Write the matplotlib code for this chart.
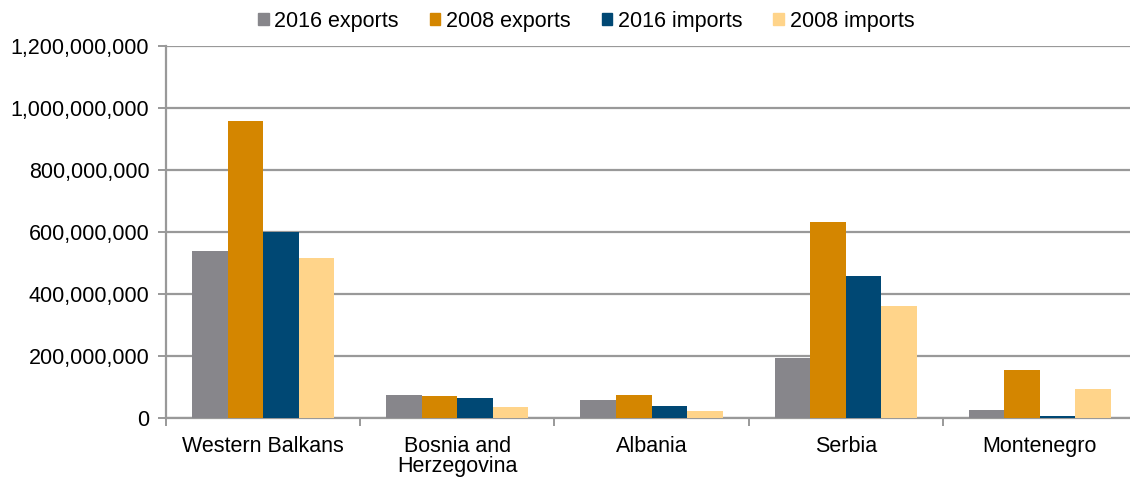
import matplotlib.pyplot as plt
import numpy as np
from matplotlib.patches import Patch
from matplotlib.ticker import FuncFormatter

plt.rcParams["font.family"] = ["Liberation Sans", "DejaVu Sans"]

categories = ["Western Balkans", "Bosnia and\nHerzegovina", "Albania", "Serbia", "Montenegro"]
series_labels = ["2016 exports", "2008 exports", "2016 imports", "2008 imports"]
exports_2016 = [539e6, 74e6, 57e6, 194e6, 25e6]
exports_2008 = [958e6, 71e6, 73e6, 632e6, 156e6]
imports_2016 = [600e6, 65e6, 38e6, 458e6, 5e6]
imports_2008 = [516e6, 35e6, 24e6, 361e6, 94e6]

COLORS = ["#87868B", "#D48600", "#004874", "#FFD48A"]


def main() -> None:
    fig = plt.figure(figsize=(11.3, 4.79), dpi=100)
    ax = fig.add_axes([166 / 1130, 1 - 418 / 479, (1137 - 166) / 1130, 372 / 479])

    x = np.arange(len(categories))
    bar_width = 0.183
    all_series = [exports_2016, exports_2008, imports_2016, imports_2008]
    for i, (values, color) in enumerate(zip(all_series, COLORS)):
        offsets = x + (i - 1.5) * bar_width
        ax.bar(offsets, values, bar_width, color=color, label=series_labels[i], zorder=3)

    ax.set_xlim(-0.5, len(categories) - 0.5)
    ax.set_ylim(0, 1.2e9)
    ax.set_yticks(np.arange(0, 1.2e9 + 1, 2e8))
    ax.yaxis.set_major_formatter(FuncFormatter(lambda v, _: f"{v:,.0f}"))
    ax.grid(axis="y", color="#999999", linewidth=1.6, zorder=0)

    ax.set_xticks(x)
    ax.set_xticklabels(categories, linespacing=0.95)
    ax.set_xticks(np.arange(-0.5, len(categories)), minor=True)
    ax.tick_params(axis="x", which="major", length=0, pad=13, labelsize=15.5)
    ax.tick_params(axis="x", which="minor", length=6, color="#999999", width=1.4)
    ax.tick_params(axis="y", length=6, color="#999999", width=1.4, labelsize=15.5, pad=6)

    for side in ["top", "right"]:
        ax.spines[side].set_visible(False)
    for side in ["left", "bottom"]:
        ax.spines[side].set_color("#999999")
        ax.spines[side].set_linewidth(1.6)

    handles = [Patch(color=c) for c in COLORS]
    fig.legend(
        handles,
        series_labels,
        loc="center",
        bbox_to_anchor=(586 / 1130, 1 - 21 / 479),
        ncol=4,
        frameon=False,
        fontsize=15.5,
        handlelength=0.5,
        handleheight=0.5,
        handletextpad=0.25,
        columnspacing=1.45,
    )

    plt.savefig("out.png", dpi=100)


if __name__ == "__main__":
    main()
